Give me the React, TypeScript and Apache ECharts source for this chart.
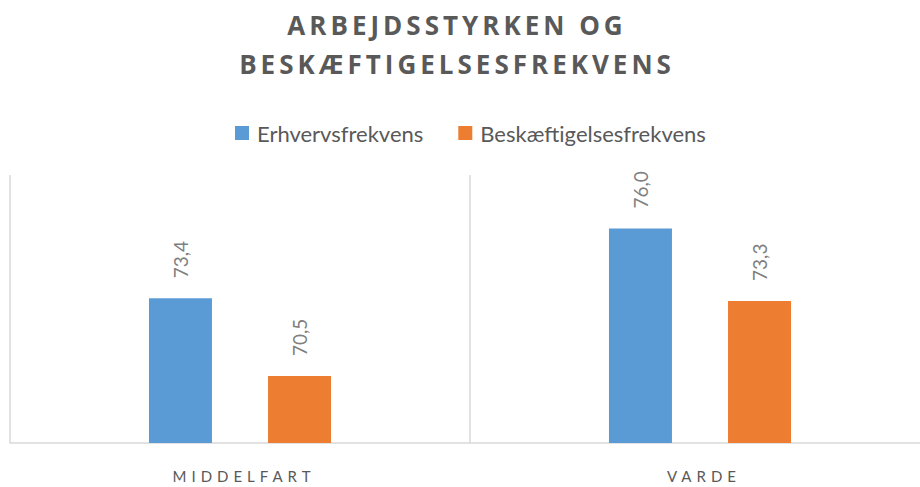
import React, { useEffect, useRef } from "react";
import * as echarts from "echarts";

const titleLines = ["ARBEJDSSTYRKEN OG", "BESKÆFTIGELSESFREKVENS"];
const categories = ["MIDDELFART", "VARDE"];
const seriesNames = ["Erhvervsfrekvens", "Beskæftigelsesfrekvens"];
const erhverv = [73.4, 76.0];
const beskaeft = [70.5, 73.3];
const colors = ["#5b9bd5", "#ed7d31"];

export default function App() {
  const ref = useRef<HTMLDivElement>(null);
  useEffect(() => {
    if (!ref.current) return;
    const chart = echarts.init(ref.current, undefined, { renderer: "svg" });
    const label = {
      show: true,
      position: "top",
      rotate: 90,
      distance: 20,
      align: "left",
      verticalAlign: "middle",
      color: "#7f7f7f",
      fontFamily: "Lato",
      fontSize: 19,
      formatter: (p: any) => Number(p.value).toFixed(1).replace(".", ","),
    };
    chart.setOption({
      animation: false,
      title: {
        text: titleLines.join("\n"),
        left: 452,
        top: 0,
        textAlign: "center",
        textStyle: {
          fontFamily: "Open Sans",
          fontWeight: "bold",
          fontSize: 26,
          lineHeight: 39,
          color: "#595959",
        },
      },
      legend: {
        top: 117,
        left: 230,
        itemWidth: 14,
        itemHeight: 14,
        itemGap: 35,
        icon: "rect",
        textStyle: {
          fontFamily: "Lato",
          fontSize: 22,
          color: "#595959",
          padding: [0, 0, 0, 3],
        },
        data: seriesNames,
      },
      grid: {
        left: 10,
        width: 920,
        top: 175,
        bottom: 44,
        outerBoundsMode: "none",
        containLabel: false,
      },
      xAxis: {
        type: "category",
        data: categories,
        axisLine: { lineStyle: { color: "#d9d9d9", width: 1.5 } },
        axisTick: { show: false },
        splitLine: { show: true, lineStyle: { color: "#d9d9d9", width: 1.5 } },
        axisLabel: {
          margin: 25,
          fontFamily: "Lato",
          fontSize: 15,
          color: "#595959",
          padding: [0, 0, 0, 8],
        },
      },
      yAxis: {
        type: "value",
        min: 68,
        max: 78,
        show: false,
        splitLine: { show: false },
      },
      series: [
        {
          name: seriesNames[0],
          type: "bar",
          data: erhverv,
          barWidth: 63,
          barGap: "89%",
          itemStyle: { color: colors[0] },
          label,
        },
        {
          name: seriesNames[1],
          type: "bar",
          data: beskaeft,
          barWidth: 63,
          itemStyle: { color: colors[1] },
          label,
        },
      ],
    });
    const applySpacing = () => {
      const texts = ref.current?.querySelectorAll("text") || [];
      texts.forEach((t: any) => {
        const c = (t.textContent || "").trim();
        if (titleLines.includes(c)) t.style.letterSpacing = "4px";
        else if (categories.includes(c)) t.style.letterSpacing = "5px";
      });
    };
    applySpacing();
    chart.on("finished", applySpacing);
    return () => chart.dispose();
  }, []);
  return (
    <div
      ref={ref}
      style={{ position: "absolute", left: 0, top: 0, width: 920, height: 487 }}
    />
  );
}
